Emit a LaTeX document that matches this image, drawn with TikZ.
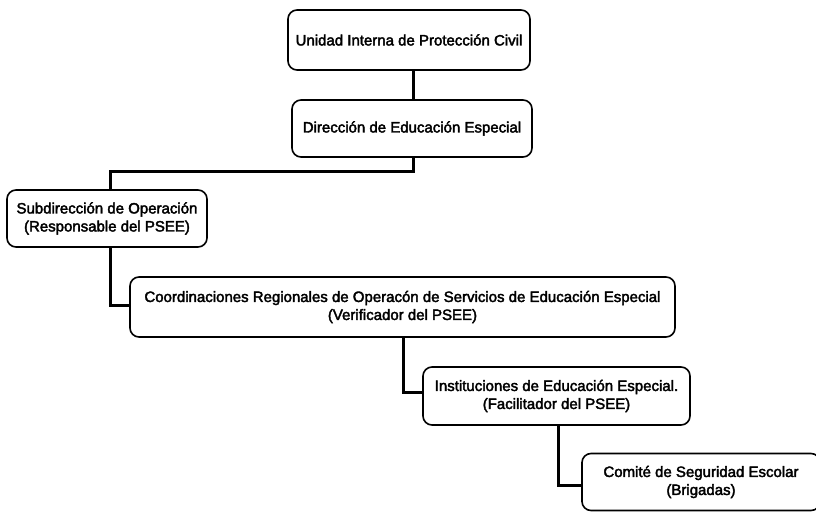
\documentclass[tikz,border=0pt]{standalone}
\usepackage{fontspec}
\setmainfont[FakeBold=2.5]{Liberation Sans}
\begin{document}
\begin{tikzpicture}[x=1pt,y=-1pt,
  orgbox/.style={draw, line width=1.6pt, rounded corners=9pt, align=center, inner sep=0pt, font=\fontsize{15}{18}\selectfont},
  link/.style={line width=3pt}]
\useasboundingbox (0,0) rectangle (816,513);
\node[orgbox, minimum width=242pt, minimum height=60pt] (a) at (409,40) {Unidad Interna de Protección Civil};
\node[orgbox, minimum width=240pt, minimum height=57pt] (b) at (412,128.5) {Dirección de Educación Especial};
\node[orgbox, minimum width=200pt, minimum height=57pt] (c) at (107,218.5) {Subdirección de Operación\\(Responsable del PSEE)};
\node[orgbox, minimum width=545pt, minimum height=60pt] (d) at (402.5,307) {Coordinaciones Regionales de Operacón de Servicios de Educación Especial\\(Verificador del PSEE)};
\node[orgbox, minimum width=267pt, minimum height=58pt] (e) at (556.5,396) {Instituciones de Educación Especial.\\(Facilitador del PSEE)};
\node[orgbox, minimum width=238pt, minimum height=57pt] (f) at (701,482) {Comité de Seguridad Escolar\\(Brigadas)};
\coordinate (j1) at (413,172);
\coordinate (j2) at (110,172);
\coordinate (j3) at (110,305);
\coordinate (j4) at (403,392);
\coordinate (j5) at (558,485);
\draw[link] (a.south -| j1) -- (b.north -| j1);
\draw[link] (b.south -| j1) -- (j1) -- (j2) -- (c.north -| j2);
\draw[link] (c.south -| j3) -- (j3) -- (d.west |- j3);
\draw[link] (d.south -| j4) -- (j4) -- (e.west |- j4);
\draw[link] (e.south -| j5) -- (j5) -- (f.west |- j5);
\end{tikzpicture}
\end{document}
